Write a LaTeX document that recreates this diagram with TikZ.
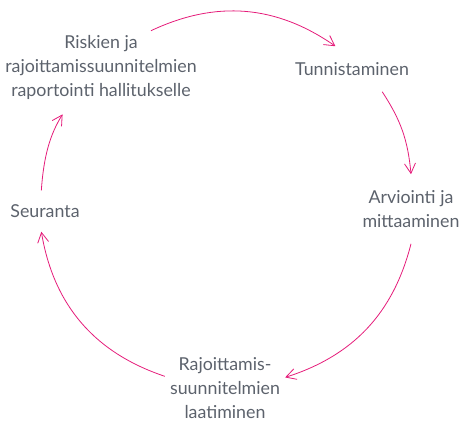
\documentclass[tikz,border=0pt]{standalone}
\usepackage{fontspec}
\setmainfont{Lato}
\usetikzlibrary{arrows.meta}
\definecolor{KaariPink}{RGB}{229,28,122}
\definecolor{VaiheGrey}{RGB}{92,98,108}

\begin{document}
\begin{tikzpicture}[x=1pt, y=-1pt,
    vaihe/.style={align=center, text=VaiheGrey, font=\fontsize{17.8}{24}\selectfont},
    kaari/.style={draw=KaariPink, line width=0.8pt, -{Straight Barb[length=10pt, width=11pt]}}]
    \useasboundingbox (0,0) rectangle (465,421);

    % process steps, clockwise from the top left
    \node[vaihe, inner sep=4pt] (raportointi) at (101,67) {Riskien ja\\rajoittamissuunnitelmien\\raportointi hallitukselle};
    \node[vaihe, inner xsep=4pt, inner ysep=16pt] (tunnistus) at (352,69) {Tunnistaminen};
    \node[vaihe, inner xsep=2pt, inner ysep=16pt] (arviointi) at (411,209) {Arviointi ja\\mittaaminen};
    \node[vaihe, inner sep=5pt] (laatiminen) at (225,388) {Rajoittamis-\\suunnitelmien\\laatiminen};
    \node[vaihe, inner xsep=2pt, inner ysep=14pt] (seuranta) at (45,211) {Seuranta};

    % arcs of the cycle
    \path (raportointi.36)  edge[kaari, bend left=30] (tunnistus.126);
    \path (tunnistus.-37)   edge[kaari, bend left=14] (arviointi.north);
    \path (arviointi.south) edge[kaari, bend left=29] (laatiminen.10);
    \path (laatiminen.169)  edge[kaari, bend left=31] (seuranta.-100);
    \path (seuranta.100)    edge[kaari, bend left=14, shorten >=13pt] (raportointi.-131);
\end{tikzpicture}
\end{document}
